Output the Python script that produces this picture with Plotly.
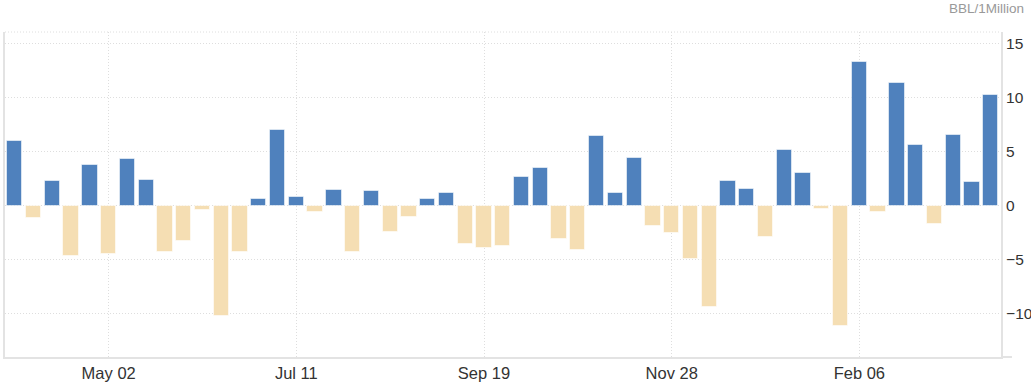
import plotly.graph_objects as go

dates = ["2018-03-28", "2018-04-04", "2018-04-11", "2018-04-18", "2018-04-25",
         "2018-05-02", "2018-05-09", "2018-05-16", "2018-05-23", "2018-05-30",
         "2018-06-06", "2018-06-13", "2018-06-20", "2018-06-27", "2018-07-04",
         "2018-07-11", "2018-07-18", "2018-07-25", "2018-08-01", "2018-08-08",
         "2018-08-15", "2018-08-22", "2018-08-29", "2018-09-05", "2018-09-12",
         "2018-09-19", "2018-09-26", "2018-10-03", "2018-10-10", "2018-10-17",
         "2018-10-24", "2018-10-31", "2018-11-07", "2018-11-14", "2018-11-21",
         "2018-11-28", "2018-12-05", "2018-12-12", "2018-12-19", "2018-12-26",
         "2019-01-02", "2019-01-09", "2019-01-16", "2019-01-23", "2019-01-30",
         "2019-02-06", "2019-02-13", "2019-02-20", "2019-02-27", "2019-03-06",
         "2019-03-13", "2019-03-20", "2019-03-27"]

values = [6.0, -1.1, 2.3, -4.6, 3.8, -4.5, 4.3, 2.4, -4.3, -3.3,
          -0.4, -10.2, -4.3, 0.6, 7.0, 0.8, -0.6, 1.5, -4.3, 1.4,
          -2.4, -1.0, 0.6, 1.2, -3.5, -3.9, -3.7, 2.7, 3.5, -3.1,
          -4.1, 6.5, 1.2, 4.4, -1.9, -2.5, -4.9, -9.4, 2.3, 1.6,
          -2.9, 5.2, 3.0, -0.3, -11.1, 13.3, -0.6, 11.4, 5.6, -1.7,
          6.6, 2.2, 10.3]

tick_dates = ["2018-05-02", "2018-07-11", "2018-09-19", "2018-11-28", "2019-02-06"]
tick_labels = ["May 02", "Jul 11", "Sep 19", "Nov 28", "Feb 06"]

y_ticks = [-10, -5, 0, 5, 10, 15]

unit_label = "BBL/1Million"

POS = "#4F81BD"
NEG = "#F5DEB3"

colors = [POS if v >= 0 else NEG for v in values]

fig = go.Figure()
fig.add_trace(go.Bar(
    x=dates, y=values,
    marker=dict(color=colors, line=dict(color="rgba(255,255,255,0.55)", width=1)),
    width=5.7 * 86400000,
    hoverinfo="x+y",
))

GRID = "#dedede"
AXL = "#e3e3e3"

fig.update_layout(
    width=1031, height=389,
    margin=dict(l=5, r=30, t=32, b=32, autoexpand=False),
    paper_bgcolor="white", plot_bgcolor="white",
    showlegend=False,
    bargap=0,
    font=dict(family="Arial, Liberation Sans, sans-serif", color="#333333"),
    xaxis=dict(
        type="date", automargin=False,
        range=["2018-03-24 08:00", "2019-03-30 20:00"],
        tickvals=tick_dates, ticktext=tick_labels,
        tickfont=dict(size=16.5, color="#333333"),
        showgrid=True, gridcolor=GRID, griddash="1px,2px", gridwidth=1,
        showline=True, linecolor=AXL, linewidth=2,
        ticks="", zeroline=False,
    ),
    yaxis=dict(
        side="right", automargin=False,
        range=[-14.0, 16.1],
        tickvals=y_ticks,
        tickfont=dict(size=15.5, color="#333333"),
        showgrid=True, gridcolor=GRID, griddash="1px,2px", gridwidth=1,
        zeroline=False,
        showline=True, mirror=True, linecolor=AXL, linewidth=2,
        ticks="",
    ),
    shapes=[
        dict(type="line", xref="paper", yref="paper", x0=0, x1=1, y0=1, y1=1,
             line=dict(color=GRID, width=1, dash="1px,2px")),
        dict(type="line", xref="paper", yref="paper", x0=1, x1=1.011, y0=0, y1=0,
             line=dict(color=AXL, width=2)),
    ],
    annotations=[
        dict(text=unit_label, xref="paper", yref="paper", x=1.025, y=1.0,
             xanchor="right", yanchor="bottom", yshift=14, showarrow=False,
             font=dict(size=13.5, color="#999999")),
    ],
)

fig.write_html("out.html", config={"displayModeBar": False},
               post_script="document.body.style.margin='0';document.body.style.overflow='hidden';")
